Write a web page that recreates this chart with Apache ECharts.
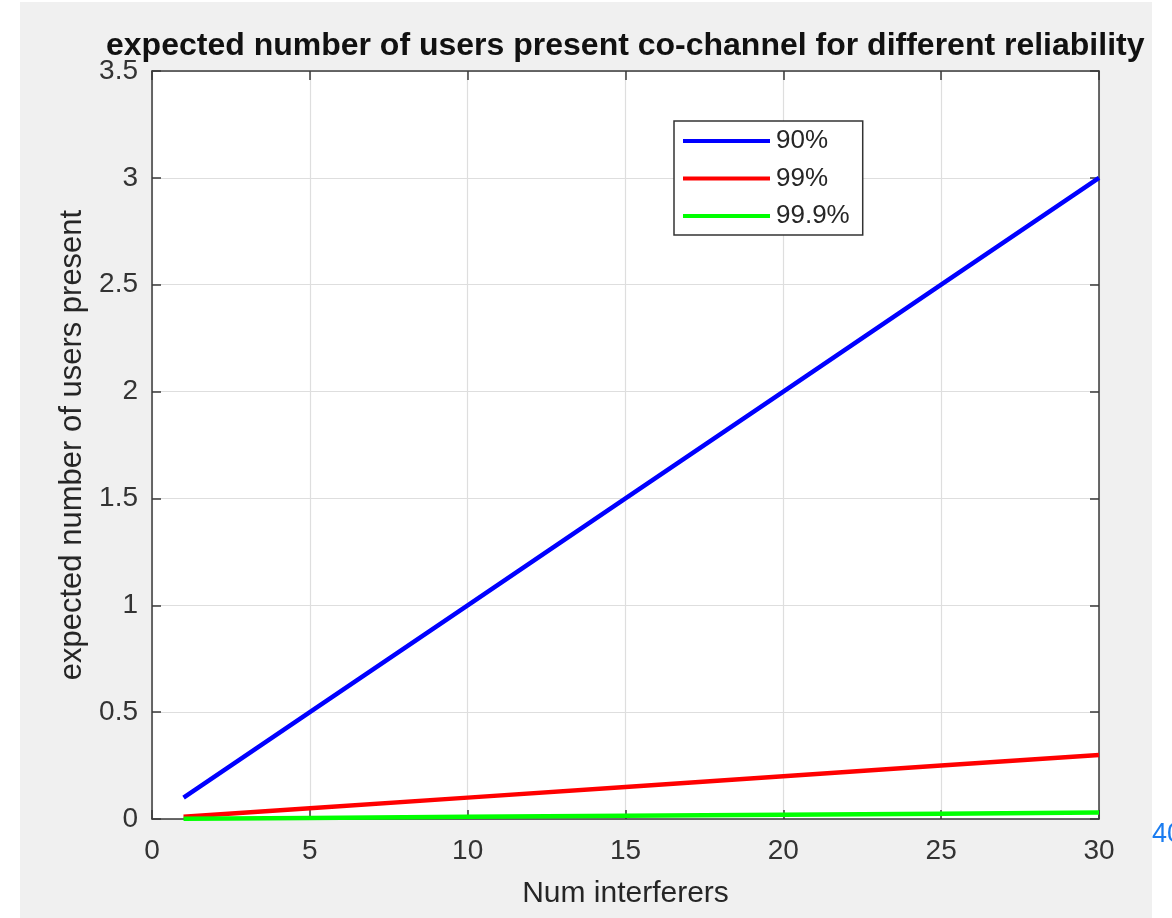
<!DOCTYPE html>
<html>
<head>
<meta charset="utf-8">
<script src="https://cdn.jsdelivr.net/npm/echarts@6/dist/echarts.min.js"></script>
<style>
html,body{margin:0;padding:0;background:#fff;}
#chart{width:1172px;height:918px;}
</style>
</head>
<body>
<div id="chart"></div>
<script>
// Data
const interferers = [1, 5, 10, 15, 20, 25, 30];
const rel90  = [0.1, 0.5, 1.0, 1.5, 2.0, 2.5, 3.0];
const rel99  = [0.01, 0.05, 0.1, 0.15, 0.2, 0.25, 0.3];
const rel999 = [0.001, 0.005, 0.01, 0.015, 0.02, 0.025, 0.03];
const seriesNames = ['90%', '99%', '99.9%'];
const xTicks = [0, 5, 10, 15, 20, 25, 30];
const yTicks = [0, 0.5, 1, 1.5, 2, 2.5, 3, 3.5];

const FONT = 'Liberation Sans, Arial, sans-serif';
const AX = '#3a3a3a';
const pairs = (ys) => interferers.map((x, i) => [x, ys[i]]);

const chart = echarts.init(document.getElementById('chart'), null, {renderer: 'canvas'});

const baseX = {
  type: 'value', min: xTicks[0], max: xTicks[xTicks.length - 1], interval: 5,
};
const baseY = {
  type: 'value', min: yTicks[0], max: yTicks[yTicks.length - 1], interval: 0.5,
};

chart.setOption({
  backgroundColor: '#f0f0f0',
  animation: false,
  textStyle: {fontFamily: FONT},
  title: {
    text: 'expected number of users present co-channel for different reliability',
    left: 106, top: 30, padding: 0,
    textStyle: {fontFamily: FONT, fontSize: 32, fontWeight: 'bold', color: '#111'}
  },
  grid: {left: 152, right: 73, top: 71, bottom: 99, show: true, backgroundColor: '#ffffff', borderWidth: 0},
  legend: {
    data: seriesNames,
    orient: 'vertical',
    left: 674, top: 121,
    padding: [5, 13, 4, 9],
    itemGap: 7.5,
    itemWidth: 87, itemHeight: 4,
    icon: 'rect',
    backgroundColor: '#ffffff',
    borderColor: '#333333', borderWidth: 1.5,
    textStyle: {fontFamily: FONT, fontSize: 26, color: '#262626', lineHeight: 30, padding: [0, 0, 0, 1]}
  },
  xAxis: [
    Object.assign({}, baseX, {
      position: 'bottom',
      name: 'Num interferers', nameLocation: 'middle', nameGap: 60,
      nameTextStyle: {fontFamily: FONT, fontSize: 30, color: '#262626'},
      axisLine: {show: true, onZero: false, lineStyle: {color: AX, width: 1.5}},
      axisTick: {show: true, inside: true, length: 9, lineStyle: {color: AX, width: 1.5}},
      axisLabel: {fontFamily: FONT, fontSize: 28, color: '#333', margin: 18},
      splitLine: {show: true, lineStyle: {color: '#dedede', width: 1.2}}
    }),
    Object.assign({}, baseX, {
      position: 'top',
      axisLine: {show: true, onZero: false, lineStyle: {color: AX, width: 1.5}},
      axisTick: {show: true, inside: true, length: 9, lineStyle: {color: AX, width: 1.5}},
      axisLabel: {show: false},
      splitLine: {show: false}
    })
  ],
  yAxis: [
    Object.assign({}, baseY, {
      position: 'left',
      name: 'expected number of users present', nameLocation: 'middle', nameGap: 64,
      nameRotate: 90,
      nameTextStyle: {fontFamily: FONT, fontSize: 31, color: '#262626'},
      axisLine: {show: true, onZero: false, lineStyle: {color: AX, width: 1.5}},
      axisTick: {show: true, inside: true, length: 9, lineStyle: {color: AX, width: 1.5}},
      axisLabel: {fontFamily: FONT, fontSize: 28, color: '#333', margin: 14},
      splitLine: {show: true, lineStyle: {color: '#dedede', width: 1.2}}
    }),
    Object.assign({}, baseY, {
      position: 'right',
      axisLine: {show: true, onZero: false, lineStyle: {color: AX, width: 1.5}},
      axisTick: {show: true, inside: true, length: 9, lineStyle: {color: AX, width: 1.5}},
      axisLabel: {show: false},
      splitLine: {show: false}
    })
  ],
  series: [
    {name: seriesNames[0], type: 'line', data: pairs(rel90), showSymbol: false, symbol: 'none',
     lineStyle: {color: '#0000ff', width: 4.5}, itemStyle: {color: '#0000ff'}, z: 3},
    {name: seriesNames[1], type: 'line', data: pairs(rel99), showSymbol: false, symbol: 'none',
     lineStyle: {color: '#ff0000', width: 4.5}, itemStyle: {color: '#ff0000'}, z: 4},
    {name: seriesNames[2], type: 'line', data: pairs(rel999), showSymbol: false, symbol: 'none',
     lineStyle: {color: '#00ff00', width: 4.5}, itemStyle: {color: '#00ff00'}, z: 5}
  ],
  graphic: [
    {type: 'rect', left: 0, top: 0, shape: {width: 20, height: 918}, style: {fill: '#ffffff'}, silent: true},
    {type: 'rect', left: 0, top: 0, shape: {width: 1172, height: 2}, style: {fill: '#ffffff'}, silent: true},
    {type: 'rect', left: 1152, top: 0, shape: {width: 20, height: 918}, style: {fill: '#ffffff'}, silent: true},
    {type: 'text', x: 1152, y: 835, silent: true,
     style: {text: '40', fontFamily: FONT, fontSize: 27, fill: '#1a7cf0', verticalAlign: 'middle', align: 'left'}}
  ]
});
</script>
</body>
</html>
